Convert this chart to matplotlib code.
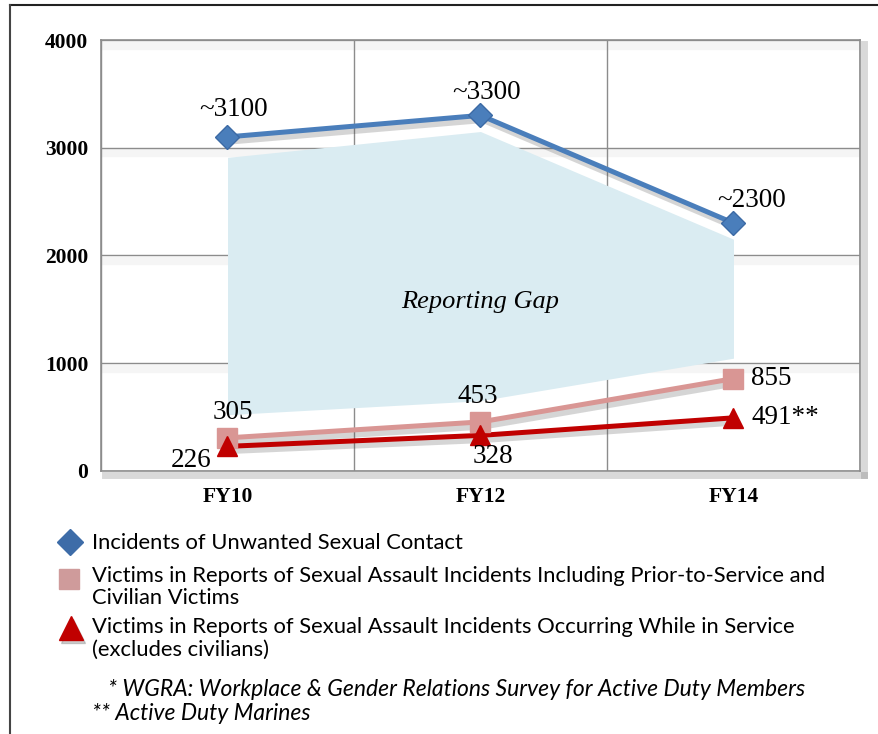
import matplotlib
matplotlib.use("Agg")
import matplotlib.pyplot as plt
import matplotlib.patheffects as pe
from matplotlib.lines import Line2D
import numpy as np

# data
years = ["FY10", "FY12", "FY14"]
unwanted_contact = [3100, 3300, 2300]
unwanted_labels = ["~3100", "~3300", "~2300"]
reports_all = [305, 453, 855]
reports_service = [226, 328, 491]
service_labels = ["226", "328", "491**"]
gap_top = [2910, 3150, 2150]
gap_bottom = [520, 650, 1045]

blue = "#4a7ebb"
pink = "#d99694"
red = "#c00000"
serif = "Liberation Serif"
sans = ["Lato", "DejaVu Sans"]

fig = plt.figure(figsize=(8.79, 7.34), dpi=100)
ax = fig.add_axes([101 / 879, 1 - 470.7 / 734, 759 / 879, 430.7 / 734])

x = np.arange(len(years))

def soft_shadow(off=(2, -3), lw=None, alpha=0.22):
    kw = {} if lw is None else {"linewidth": lw}
    return [pe.SimpleLineShadow(offset=off, shadow_color="#444444", alpha=alpha, **kw), pe.Normal()]

# reporting gap band
ax.fill_between(x, gap_bottom, gap_top, color="#daecf2", lw=0, zorder=1)
ax.text(1, 1570, "Reporting Gap", family=serif, style="italic", fontsize=19,
        ha="center", va="center", zorder=2)

# lines (with soft shadow) then markers on top
for vals, col, z in [(unwanted_contact, blue, 5), (reports_all, pink, 4), (reports_service, red, 5)]:
    ax.plot(x, vals, color=col, lw=3.6, zorder=z, solid_capstyle="round",
            path_effects=soft_shadow(lw=5))
ax.plot(x, unwanted_contact, ls="none", marker="D", ms=12, mfc=blue, mec="#3c6aa5", zorder=6)
ax.plot(x, reports_all, ls="none", marker="s", ms=14, mfc=pink, mec=pink, zorder=6)
ax.plot(x, reports_service, ls="none", marker="^", ms=15, mfc=red, mec=red, zorder=7)

lab = dict(family=serif, fontsize=19.5, zorder=8)
up = [250, 215, 205]
for i, t in enumerate(unwanted_labels):
    dx = 0.07 if i == 2 else 0.025
    ax.text(x[i] + dx, unwanted_contact[i] + up[i], t, ha="center", va="center", **lab)

ax.text(x[0] + 0.02, reports_all[0] + 240, str(reports_all[0]), ha="center", va="center", **lab)
ax.text(x[1] - 0.01, reports_all[1] + 240, str(reports_all[1]), ha="center", va="center", **lab)
ax.text(x[2] + 0.07, reports_all[2], str(reports_all[2]), ha="left", va="center", **lab)

ax.text(x[0] - 0.145, reports_service[0] - 135, service_labels[0], ha="center", va="center", **lab)
ax.text(x[1] + 0.05, reports_service[1] - 195, service_labels[1], ha="center", va="center", **lab)
ax.text(x[2] + 0.07, reports_service[2], service_labels[2], ha="left", va="center", **lab)

ax.set_xlim(-0.5, 2.5)
ax.set_ylim(0, 4000)
ax.set_yticks([0, 1000, 2000, 3000, 4000])
ax.set_xticks([-0.5, 0.5, 1.5, 2.5], minor=False)
ax.set_xticklabels([])
ax.set_xticks(x, minor=True)
ax.set_xticklabels(years, minor=True)
ax.tick_params(axis="x", which="both", length=0)
ax.tick_params(axis="x", which="minor", pad=12)
ax.tick_params(axis="y", length=0, pad=9)
for t in ax.get_yticklabels() + ax.get_xticklabels(minor=True):
    t.set_fontfamily(serif)
    t.set_fontweight("bold")
    t.set_fontsize(15.5)

ax.grid(True, which="major", color="#8c8c8c", lw=1.0, zorder=0)
for g in ax.get_ygridlines():
    g.set_path_effects([pe.SimpleLineShadow(offset=(2, -4), shadow_color="#888888", alpha=0.08, linewidth=6),
                        pe.Normal()])
ax.set_axisbelow(True)
for s in ax.spines.values():
    s.set_color("#8c8c8c")
    s.set_linewidth(1.2)
for side in ["right", "bottom"]:
    ax.spines[side].set_path_effects([pe.SimpleLineShadow(offset=(3, -3), shadow_color="#555555", alpha=0.22, linewidth=5),
                                      pe.Normal()])

# outer frame (top and left)
fig.add_artist(Line2D([10 / 879, 1], [1 - 5 / 734] * 2, color="#222222", lw=1.5))
fig.add_artist(Line2D([10 / 879] * 2, [0, 1 - 5 / 734], color="#444444", lw=1.5))

# legend drawn by hand
def fx(px):
    return px / 879

def fy(py):
    return 1 - py / 734

leg = dict(family=sans, fontsize=15.8, ha="left", va="center")
fig.add_artist(Line2D([fx(70)], [fy(542)], marker="D", ms=13, color="#3d6ca8", lw=0))
fig.text(fx(92), fy(543), "Incidents of Unwanted Sexual Contact", **leg)
fig.add_artist(Line2D([fx(69.5)], [fy(579)], marker="s", ms=15, color="#cf9b9b", lw=0))
fig.text(fx(92), fy(576), "Victims in Reports of Sexual Assault Incidents Including Prior-to-Service and", **leg)
fig.text(fx(92), fy(598), "Civilian Victims", **leg)
fig.add_artist(Line2D([fx(73)], [fy(631)], marker="^", ms=17, color="#777777", alpha=0.35, lw=0))
fig.add_artist(Line2D([fx(71)], [fy(628)], marker="^", ms=17, color=red, lw=0))
fig.text(fx(92), fy(627), "Victims in Reports of Sexual Assault Incidents Occurring While in Service", **leg)
fig.text(fx(92), fy(650), "(excludes civilians)", **leg)

foot = dict(family=sans, fontsize=16.5, style="italic", ha="left", va="center")
fig.text(fx(108), fy(690), "* WGRA: Workplace & Gender Relations Survey for Active Duty Members", **foot)
fig.text(fx(92), fy(714), "** Active Duty Marines", **foot)

fig.savefig("out.png", dpi=100, facecolor="white")
